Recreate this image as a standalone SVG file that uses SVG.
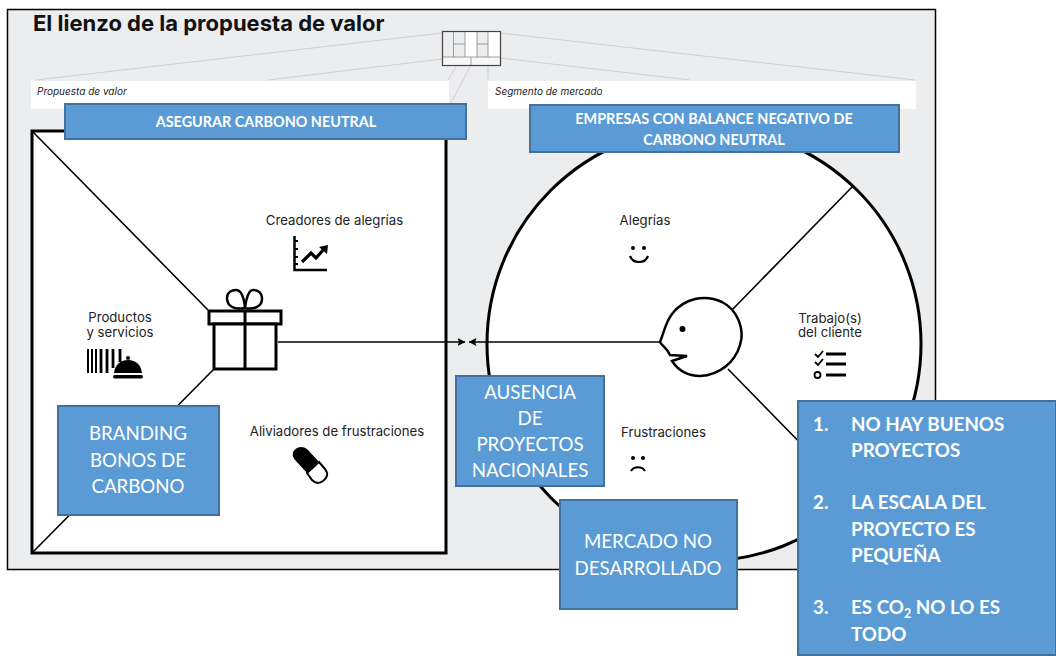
<svg xmlns="http://www.w3.org/2000/svg" width="1056" height="656" viewBox="0 0 1056 656">
<style>
.lbl{font-family:"Inter","Liberation Sans",sans-serif;font-size:13.2px;fill:#222;text-anchor:middle}
.it{font-family:"Inter","Liberation Sans",sans-serif;font-size:10px;font-style:italic;fill:#222}
.box{fill:#5b9bd5;stroke:#41719c;stroke-width:2}
.bt{font-family:"Lato","Open Sans",sans-serif;fill:#fff;text-anchor:middle}
.bb{font-family:"Lato","Open Sans",sans-serif;fill:#fff;font-weight:700;font-size:18.8px}
.g{stroke:#c9c9cb;stroke-width:.8;fill:none}
.k{stroke:#000;fill:none}
</style>
<defs>
<marker id="ah" viewBox="0 0 8 8" refX="7.500" refY="4" markerWidth="8" markerHeight="8" orient="auto-start-reverse" markerUnits="userSpaceOnUse"><path d="M0 0L8 4L0 8L1.500 4Z" fill="#000"/></marker>
</defs>
<rect width="1056" height="656" fill="#fff"/>
<rect id="canvas" x="7.500" y="9.500" width="928" height="560" fill="#ecedef" stroke="#000" stroke-width="1.500"/>
<text x="33" y="31" font-family="Inter,'Liberation Sans',sans-serif" font-weight="700" font-size="22" fill="#111">El lienzo de la propuesta de valor</text>
<g id="guides" class="g">
<path d="M36 80L442 33M268 80L442 59M500 33L915 80M500 58L690 80M448 80L477 32M451 103L471 65M488 66V80"/>
</g>
<g id="mini">
<rect x="442.500" y="31.500" width="58" height="34" fill="#ecedef"/>
<path d="M465 32H477V57H465ZM488 32H500V57H488Z" fill="#fff"/>
<rect x="442.500" y="57" width="58" height="8.500" fill="#f7f7f8"/>
<path d="M453.500 32V57M465 32V57M477 32V57M488 32V57M442 57H500M471 57V65M453 44H465M477 44H488" stroke="#888" stroke-width=".8" fill="none"/>
<rect x="442.500" y="31.500" width="58" height="34" fill="none" stroke="#444" stroke-width="1.200"/>
</g>
<rect x="31" y="81" width="418" height="28" fill="#fff"/>
<rect x="488" y="81" width="428" height="28" fill="#fff"/>
<text class="it" x="37" y="95">Propuesta de valor</text>
<text class="it" x="495" y="95">Segmento de mercado</text>
<g id="value-map">
<rect x="32" y="131" width="414" height="422" fill="#fff" stroke="#000" stroke-width="3"/>
<path class="k" stroke-width="1.600" d="M33 132L208 310M213 370L33 552"/>
</g>
<g id="customer-segment">
<circle cx="704" cy="344" r="217" fill="#fff" stroke="#000" stroke-width="3"/>
<path class="k" stroke-width="1.600" d="M732 310L853 186M728 369L860 504"/>
</g>
<g id="connectors">
<path class="k" stroke-width="1.500" d="M278 342H465" marker-end="url(#ah)"/>
<path class="k" stroke-width="1.500" d="M660 342H469" marker-end="url(#ah)"/>
</g>
<g id="gift" class="k" stroke-width="3">
<rect x="209" y="311" width="72" height="13" fill="#fff"/>
<rect x="214" y="324" width="62" height="45" fill="#fff"/>
<path d="M245 311V369"/>
<path d="M244 308C234 310 227 306 227 298C227 292 232 290 236 290C241 290 244 298 245 308C246 298 249 290 253 290C258 290 262 293 262 299C262 306 255 310 244 308Z" stroke-width="2.500"/>
</g>
<g id="face">
<path class="k" stroke-width="2.500" d="M660 342C664 333 665 323 672 314C684 298 705 294 722 302C738 310 745 330 740 345C735 362 720 375 700 376C688 376 678 370 672 361L687 356L670 355C667 348 662 346 660 342Z" fill="#fff"/>
<circle cx="682.500" cy="329" r="3" fill="#000"/>
</g>
<g id="creadores"><text class="lbl" x="334.500" y="225">Creadores de alegrías</text>
<path class="k" stroke-width="2.500" d="M294.500 236V270H327"/>
<path class="k" stroke-width="1.800" d="M294 241H298M294 249H298M294 257H298M294 264H298"/>
<path class="k" stroke-width="3.200" d="M302 262L311 253L316 258L324 249"/><path d="M319 247L328 245L327 254Z" fill="#000"/>
</g>
<g id="productos"><text class="lbl" x="120" y="322">Productos</text><text class="lbl" x="120" y="337">y servicios</text>
<path class="k" stroke-width="2" d="M88 349V373M92 349V373M96 349V373"/>
<path class="k" stroke-width="2.800" d="M101 349V373M107 349V373M113 349V368M120 349V362"/>
<path d="M114 373C115 364 121 360 128 360C136 360 141 365 142 373Z" fill="#000"/><circle cx="128" cy="358" r="2" fill="#000"/>
<rect x="113" y="375" width="30" height="3.500" rx="1.700" fill="#000"/>
</g>
<g id="aliviadores"><text class="lbl" x="337" y="436">Aliviadores de frustraciones</text>
<path d="M297 448C301 446 305 447 308 450L319 462L307 473L296 461C291 456 292 451 297 448Z" fill="#000"/>
<path class="k" stroke-width="2" fill="#fff" d="M307 473L319 462L325 469C329 474 327 478 323 481C319 484 315 483 312 480Z"/>
</g>
<g id="alegrias"><text class="lbl" x="645" y="225">Alegrías</text>
<circle cx="633" cy="248" r="2" fill="#000"/><circle cx="644" cy="248" r="2" fill="#000"/>
<path class="k" stroke-width="2.200" d="M630 256C633 264 645 264 648 256"/>
</g>
<g id="frustraciones"><text class="lbl" x="663.500" y="437">Frustraciones</text>
<circle cx="633" cy="458" r="2" fill="#000"/><circle cx="643" cy="458" r="2" fill="#000"/>
<path class="k" stroke-width="2.200" d="M631 471C634 466 642 466 645 471"/>
</g>
<g id="trabajos"><text class="lbl" x="830" y="323">Trabajo(s)</text><text class="lbl" x="830" y="337">del cliente</text>
<path class="k" stroke-width="1.800" d="M815 354L818 357L823 351M815 362L818 365L823 359"/>
<circle cx="817.500" cy="375" r="3" class="k" stroke-width="1.800"/>
<path class="k" stroke-width="2.800" d="M826 354H846M826 364H846M826 375H846"/>
</g>
<g id="box-asegurar"><rect class="box" x="65" y="104" width="401" height="35"/>
<text class="bt" x="266" y="127" font-size="14.400" font-weight="700">ASEGURAR CARBONO NEUTRAL</text></g>
<g id="box-empresas"><rect class="box" x="530" y="105" width="369" height="47"/>
<text class="bt" x="714" y="124" font-size="14.400" font-weight="700">EMPRESAS CON BALANCE NEGATIVO DE</text>
<text class="bt" x="714" y="145" font-size="14.400" font-weight="700">CARBONO NEUTRAL</text></g>
<g id="box-branding"><rect class="box" x="58" y="406" width="161" height="109"/>
<text class="bt" x="138" y="440" font-size="18.700">BRANDING</text><text class="bt" x="138" y="467" font-size="18.700">BONOS DE</text><text class="bt" x="138" y="493" font-size="18.700">CARBONO</text></g>
<g id="box-ausencia"><rect class="box" x="456" y="376" width="148" height="110"/>
<text class="bt" x="530" y="399" font-size="18.700">AUSENCIA</text><text class="bt" x="530" y="425" font-size="18.700">DE</text><text class="bt" x="530" y="451" font-size="18.700">PROYECTOS</text><text class="bt" x="530" y="477" font-size="18.700">NACIONALES</text></g>
<g id="box-mercado"><rect class="box" x="560" y="500" width="177" height="109"/>
<text class="bt" x="648" y="548" font-size="18.700">MERCADO NO</text><text class="bt" x="648" y="575" font-size="18.700">DESARROLLADO</text></g>
<g id="box-list"><rect class="box" x="798" y="401" width="258" height="254"/>
<text class="bb" x="813" y="431">1.</text><text class="bb" x="851" y="431">NO HAY BUENOS</text><text class="bb" x="851" y="457">PROYECTOS</text>
<text class="bb" x="813" y="509">2.</text><text class="bb" x="851" y="509">LA ESCALA DEL</text><text class="bb" x="851" y="536">PROYECTO ES</text><text class="bb" x="851" y="562">PEQUEÑA</text>
<text class="bb" x="813" y="614">3.</text><text class="bb" x="851" y="614">ES CO<tspan font-size="12.500" dy="4">2</tspan><tspan dy="-4"> NO LO ES</tspan></text><text class="bb" x="851" y="641">TODO</text></g>
</svg>
